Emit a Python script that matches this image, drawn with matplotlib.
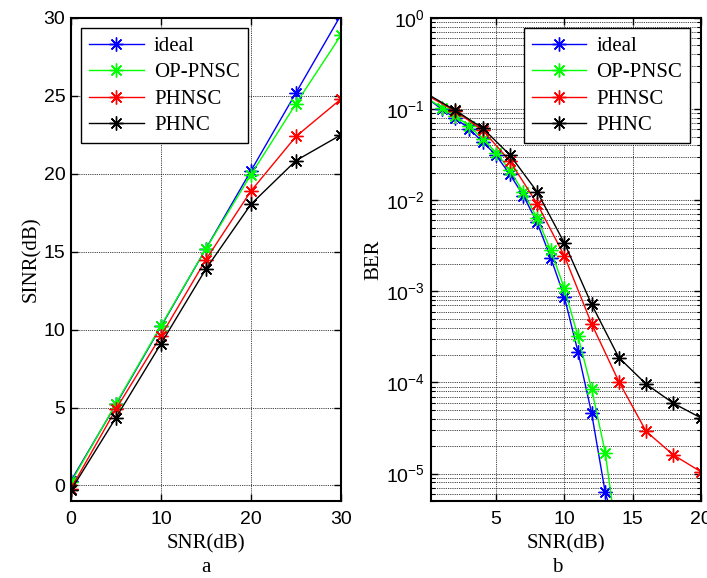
import matplotlib
matplotlib.use('Agg')
import matplotlib.pyplot as plt
import numpy as np
from matplotlib.ticker import LogLocator, NullFormatter

plt.rcParams['font.family'] = ['Liberation Sans', 'DejaVu Sans']
plt.rcParams['mathtext.fontset'] = 'custom'
plt.rcParams['mathtext.rm'] = 'Liberation Sans'
plt.rcParams['mathtext.it'] = 'Liberation Sans:italic'
plt.rcParams['font.size'] = 14

# (a) SINR contra SNR
snr_a = [0, 5, 10, 15, 20, 25, 30]
sinr_ideal = [0.3, 5.2, 10.2, 15.2, 20.2, 25.2, 30.2]
sinr_op = [0.2, 5.25, 10.25, 15.2, 19.95, 24.5, 28.9]
sinr_phnsc = [-0.2, 4.9, 9.6, 14.5, 18.9, 22.4, 24.8]
sinr_phnc = [-0.3, 4.35, 9.1, 13.9, 18.05, 20.85, 22.5]

# (b) BER contra SNR
snr_fino = [0, 1, 2, 3, 4, 5, 6, 7, 8, 9, 10, 11, 12, 13, 14]
ber_ideal = [0.13, 0.1, 0.08, 0.061, 0.044, 0.031, 0.0193, 0.0112, 0.0057,
             0.00234, 8.7e-4, 2.17e-4, 4.6e-5, 6.2e-6, 2e-6]
ber_op = [0.13, 0.104, 0.084, 0.066, 0.047, 0.0334, 0.0214, 0.0122, 0.0064,
          0.00283, 0.00108, 3.2e-4, 8.5e-5, 1.7e-5, 1.35e-6]
snr_grosso = [0, 2, 4, 6, 8, 10, 12, 14, 16, 18, 20]
ber_phnsc = [0.14, 0.095, 0.059, 0.027, 0.0092, 0.00245, 4.4e-4, 1.02e-4,
             2.9e-5, 1.6e-5, 1.05e-5]
ber_phnc = [0.145, 0.097, 0.062, 0.0315, 0.0124, 0.0034, 7.2e-4, 1.87e-4,
            9.6e-5, 5.9e-5, 4.1e-5]

nomes = ['ideal', 'OP-PNSC', 'PHNSC', 'PHNC']
cores = ['#0000ff', '#00ff00', '#ff0000', '#000000']

serif = ['Liberation Serif', 'DejaVu Serif']
asterisco = (8, 2, 0)
grade = dict(color='black', linestyle=(0, (1, 1.2)), linewidth=0.6)

fig = plt.figure(figsize=(7.07, 5.78), dpi=100)
ax1 = fig.add_axes([71 / 707, 1 - 501 / 578, 270 / 707, 483 / 578])
ax2 = fig.add_axes([430.7 / 707, 1 - 501 / 578, 270 / 707, 483 / 578])

def estilo(ax):
    for s in ax.spines.values():
        s.set_linewidth(1.5)
    ax.tick_params(which='both', direction='in', top=True, right=True,
                   labelsize=14)
    ax.tick_params(which='major', length=5, width=1.0)
    ax.tick_params(which='minor', length=3, width=0.8)
    ax.tick_params(axis='x', pad=7)
    ax.tick_params(axis='y', pad=4)

# painel a
series_a = [sinr_ideal, sinr_op, sinr_phnsc, sinr_phnc]
for y, nome, c in zip(series_a, nomes, cores):
    ax1.plot(snr_a, y, color=c, lw=1.0, marker=asterisco, markersize=10,
             mew=1.0, label=nome)
ax1.set_xlim(0, 30)
ax1.set_ylim(-1, 30)
ax1.set_xticks([0, 10, 20, 30])
ax1.set_yticks([0, 5, 10, 15, 20, 25, 30])
ax1.grid(True, **grade)
estilo(ax1)
ax1.set_xlabel('SNR(dB)', family=serif, fontsize=15, labelpad=5)
ax1.set_ylabel('SINR(dB)', family=serif, fontsize=15, labelpad=2)
ax1.text(0.5, -0.138, 'a', transform=ax1.transAxes, ha='center', va='center',
         family=serif, fontsize=15)

# painel b
series_b = [(snr_fino, ber_ideal), (snr_fino, ber_op),
            (snr_grosso, ber_phnsc), (snr_grosso, ber_phnc)]
for (x, y), nome, c in zip(series_b, nomes, cores):
    ax2.plot(x, y, color=c, lw=1.0, marker=asterisco, markersize=10,
             mew=1.0, label=nome, markevery=slice(1, None))
ax2.set_yscale('log')
ax2.set_xlim(0.2, 20)
ax2.set_ylim(5e-6, 1)
ax2.set_xticks([5, 10, 15, 20])
ax2.yaxis.set_major_locator(LogLocator(base=10, numticks=10))
ax2.yaxis.set_minor_locator(LogLocator(base=10, subs=np.arange(2, 10), numticks=20))
ax2.yaxis.set_minor_formatter(NullFormatter())
ax2.grid(True, which='major', **grade)
ax2.grid(True, which='minor', axis='y', **grade)
estilo(ax2)
ax2.set_xlabel('SNR(dB)', family=serif, fontsize=15, labelpad=5)
ax2.set_ylabel('BER', family=serif, fontsize=15, labelpad=2)
ax2.text(0.47, -0.138, 'b', transform=ax2.transAxes, ha='center', va='center',
         family=serif, fontsize=15)

for ax, loc in [(ax1, 'upper left'), (ax2, 'upper right')]:
    leg = ax.legend(loc=loc, prop={'family': serif, 'size': 15},
                    fancybox=False, framealpha=1, edgecolor='black',
                    handlelength=2.6, handletextpad=0.5, labelspacing=0.33,
                    borderpad=0.38, borderaxespad=0.5)
    leg.get_frame().set_linewidth(1.0)

fig.savefig('out.png', dpi=100)
